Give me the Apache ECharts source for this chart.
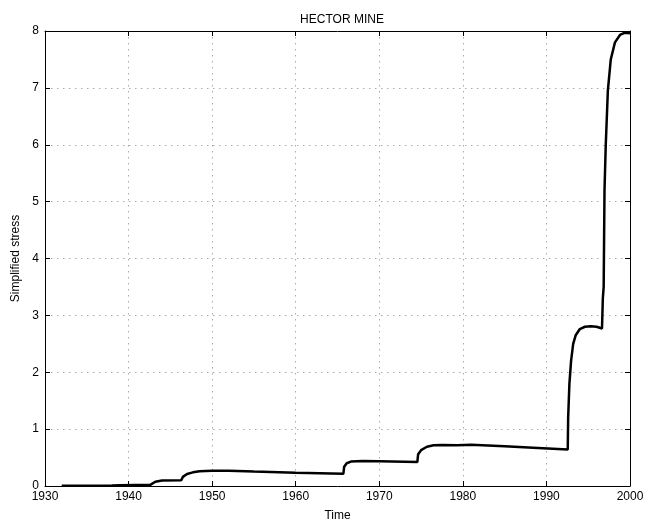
<!DOCTYPE html>
<html>
<head>
<meta charset="utf-8">
<script src="https://cdn.jsdelivr.net/npm/echarts@6/dist/echarts.min.js"></script>
<style>html,body{margin:0;padding:0;background:#fff}#c{width:659px;height:527px}</style>
</head>
<body>
<div id="c"></div>
<script>
const titleText = "HECTOR MINE";
const xName = "Time";
const yName = "Simplified stress";
const years = [1932.0,1935,1938,1939,1942.6,1942.8,1943.2,1944,1946.3,1946.5,1947,1947.7,1948.5,1950,1952,1955,1960,1965.7,1965.8,1966.1,1966.6,1968,1970,1974.55,1974.65,1975,1975.7,1976.5,1977.5,1979.3,1979.4,1981,1985,1989,1992.55,1992.6,1992.75,1992.95,1993.2,1993.5,1994,1994.6,1995.3,1996.0,1996.65,1996.75,1996.85,1996.95,1997.1,1997.35,1997.7,1998.2,1998.8,1999.4,2000];
const stress = [0.003,0.005,0.008,0.015,0.02,0.05,0.075,0.095,0.1,0.16,0.21,0.24,0.26,0.27,0.27,0.255,0.235,0.215,0.34,0.4,0.43,0.44,0.435,0.42,0.56,0.63,0.69,0.715,0.72,0.715,0.735,0.725,0.7,0.67,0.64,1.2,1.8,2.2,2.5,2.65,2.76,2.8,2.81,2.8,2.77,3.3,3.5,5.2,6.0,6.95,7.5,7.8,7.93,7.97,7.96];
const xTicks = {min:1930, max:2000, step:10};
const yTicks = {min:0, max:8, step:1};

const font = "'Liberation Sans', Arial, sans-serif";
const chart = echarts.init(document.getElementById('c'), null, {renderer:'canvas'});
const grid = {left:45, right:29, top:31, bottom:32};
const dotted = {show:true, lineStyle:{color:'#aaaaaa', width:1, type:[1.5,4.5]}};
const axisLine = {show:true, onZero:false, lineStyle:{color:'#000', width:1}};
const tickIn = {show:true, inside:true, length:5, lineStyle:{color:'#000', width:1}};
chart.setOption({
  animation:false,
  backgroundColor:'#fff',
  title:{text:titleText, left:337, top:9, textAlign:'center',
    textStyle:{fontFamily:font, fontSize:12, fontWeight:'normal', color:'#000'}},
  grid:grid,
  xAxis:[{
    type:'value', min:xTicks.min, max:xTicks.max, interval:xTicks.step,
    name:xName, nameLocation:'middle', nameGap:24,
    nameTextStyle:{fontFamily:font, fontSize:12, color:'#000'},
    axisLine:axisLine, axisTick:tickIn,
    axisLabel:{fontFamily:font, fontSize:12, color:'#000', margin:5, formatter:v=>String(v)},
    splitLine:dotted
  },{
    type:'value', position:'top', min:xTicks.min, max:xTicks.max, interval:xTicks.step,
    axisLine:axisLine, axisTick:tickIn, axisLabel:{show:false}, splitLine:{show:false}
  }],
  yAxis:[{
    type:'value', min:yTicks.min, max:yTicks.max, interval:yTicks.step,
    name:yName, nameLocation:'middle', nameGap:20,
    nameTextStyle:{fontFamily:font, fontSize:12, color:'#000'},
    axisLine:axisLine, axisTick:tickIn,
    axisLabel:{fontFamily:font, fontSize:12, color:'#000', margin:6},
    splitLine:dotted
  },{
    type:'value', position:'right', min:yTicks.min, max:yTicks.max, interval:yTicks.step,
    axisLine:axisLine, axisTick:tickIn, axisLabel:{show:false}, splitLine:{show:false}
  }],
  series:[{
    type:'line', showSymbol:false, smooth:false,
    data: years.map((y,i)=>[y, stress[i]]),
    lineStyle:{color:'#000', width:2.5}, itemStyle:{color:'#000'}
  }]
});
</script>
</body>
</html>
